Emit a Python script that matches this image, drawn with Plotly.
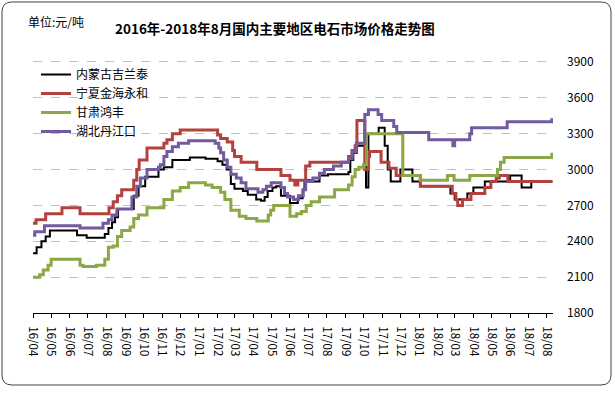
import plotly.graph_objects as go

# ---------------- data ----------------
black_dates = ["2016-04-01","2016-04-07","2016-04-15","2016-04-22","2016-04-29","2016-06-13","2016-06-29",
    "2016-07-29","2016-08-04","2016-08-10","2016-08-15","2016-08-20","2016-09-15","2016-09-23","2016-10-04",
    "2016-10-26","2016-11-04","2016-11-18","2016-12-17","2017-01-12","2017-02-01","2017-02-09","2017-02-16",
    "2017-02-23","2017-03-01","2017-03-15","2017-03-23","2017-04-06","2017-04-14","2017-04-20","2017-04-25",
    "2017-05-03","2017-05-09","2017-05-17","2017-06-01","2017-06-14","2017-06-22","2017-06-25","2017-07-09",
    "2017-07-20","2017-08-03","2017-09-06","2017-09-09","2017-09-14","2017-09-20","2017-10-05","2017-10-09",
    "2017-10-26","2017-11-05","2017-11-10","2017-11-15","2017-12-01","2017-12-21","2018-01-03","2018-02-22",
    "2018-03-01","2018-03-22","2018-04-01","2018-04-20","2018-06-01","2018-06-20","2018-07-06","2018-08-10"]
black_values = [2300,2350,2400,2440,2490,2450,2430,
    2460,2510,2560,2600,2670,2780,2860,2940,
    3000,3020,3080,3100,3090,3070,3040,3000,
    2880,2840,2820,2790,2750,2740,2770,2820,
    2850,2860,2780,2720,2760,2830,2910,2900,
    2950,2960,2980,3080,3140,3200,2850,3300,
    3350,3200,3000,2900,3000,2900,2860,2800,
    2750,2800,2850,2900,2950,2850,2900,2900]

red_dates = ["2016-04-01","2016-04-06","2016-04-22","2016-05-19","2016-06-18","2016-08-05","2016-08-12",
    "2016-08-19","2016-08-26","2016-09-15","2016-09-20","2016-09-24","2016-10-07","2016-11-04","2016-11-09",
    "2016-11-18","2016-12-01","2017-02-01","2017-02-06","2017-02-17","2017-02-26","2017-03-01","2017-03-12",
    "2017-04-07","2017-05-17","2017-06-01","2017-06-09","2017-06-14","2017-06-27","2017-07-04","2017-09-06",
    "2017-09-12","2017-09-17","2017-09-20","2017-10-03","2017-10-09","2017-10-11","2017-10-30","2017-11-12",
    "2017-11-24","2018-01-03","2018-02-25","2018-03-03","2018-03-06","2018-03-14","2018-03-28","2018-04-20",
    "2018-04-30","2018-05-09","2018-05-14","2018-05-28","2018-08-10"]
red_values = [2550,2580,2630,2680,2630,2680,2730,
    2780,2830,2910,3000,3080,3180,3220,3250,
    3300,3330,3290,3260,3230,3160,3110,3060,
    3000,2950,2910,2870,2910,3030,3060,3110,
    3160,3200,3410,3000,3110,3150,3060,3010,
    2950,2860,2800,2750,2700,2750,2800,2850,
    2900,2930,2950,2900,2900]

green_dates = ["2016-04-01","2016-04-12","2016-04-18","2016-04-26","2016-05-01","2016-06-18","2016-06-23",
    "2016-07-15","2016-07-29","2016-08-04","2016-08-12","2016-08-19","2016-08-26","2016-09-09","2016-09-15",
    "2016-09-23","2016-10-07","2016-11-04","2016-11-18","2016-12-01","2016-12-15","2017-01-12","2017-01-23",
    "2017-02-06","2017-02-13","2017-02-23","2017-03-09","2017-03-20","2017-04-07","2017-04-26","2017-04-30",
    "2017-05-05","2017-06-01","2017-06-12","2017-06-20","2017-06-28","2017-07-06","2017-07-20","2017-08-14",
    "2017-09-06","2017-09-12","2017-09-17","2017-09-23","2017-10-01","2017-10-06","2017-12-05","2018-01-03",
    "2018-02-17","2018-02-28","2018-03-26","2018-05-11","2018-05-16","2018-05-22","2018-08-09"]
green_values = [2100,2120,2160,2200,2250,2200,2190,
    2200,2250,2350,2360,2440,2490,2520,2590,
    2620,2680,2750,2820,2850,2890,2870,2850,
    2810,2750,2660,2610,2590,2570,2620,2660,
    2700,2610,2630,2650,2700,2730,2770,2830,
    2870,2940,3000,3020,3040,3300,2950,2910,
    2950,2910,2950,3000,3060,3100,3140]

purple_dates = ["2016-04-01","2016-04-04","2016-04-20","2016-06-18","2016-07-26","2016-08-04","2016-08-10",
    "2016-08-18","2016-09-12","2016-09-20","2016-09-26","2016-10-07","2016-10-26","2016-10-29","2016-11-04",
    "2016-11-09","2016-11-18","2016-11-28","2016-12-15","2017-01-28","2017-02-03","2017-02-06","2017-02-11",
    "2017-02-17","2017-02-23","2017-03-04","2017-03-12","2017-03-20","2017-04-09","2017-04-17","2017-04-23",
    "2017-05-01","2017-05-17","2017-05-23","2017-05-28","2017-06-07","2017-06-15","2017-06-23","2017-06-27",
    "2017-07-09","2017-07-20","2017-07-28","2017-08-12","2017-08-25","2017-09-06","2017-09-12","2017-09-19",
    "2017-10-03","2017-10-09","2017-10-25","2017-10-31","2017-11-20","2017-11-25","2018-01-17","2018-02-26",
    "2018-03-01","2018-03-26","2018-03-29","2018-05-27","2018-08-09"]
purple_values = [2450,2480,2530,2510,2550,2580,2620,
    2670,2770,2860,2930,3000,3020,3040,3110,
    3150,3190,3220,3240,3220,3180,3140,3080,
    3020,2960,2930,2890,2840,2810,2830,2860,
    2890,2850,2800,2770,2750,2780,2830,2900,
    2930,2970,3000,3030,3060,3090,3150,3220,
    3460,3500,3460,3410,3360,3310,3250,3200,
    3250,3300,3350,3400,3430]

series_names = ["内蒙古吉兰泰", "宁夏金海永和", "甘肃鸿丰", "湖北丹江口"]
y_ticks = [1800, 2100, 2400, 2700, 3000, 3300, 3600, 3900]
title_text = "2016年-2018年8月国内主要地区电石市场价格走势图"
unit_text = "单位:元/吨"

# ---------------- layout constants ----------------
W, H = 615, 393
L, R, T, B = 33, 62, 50, 80
PW, PH = W - L - R, H - T - B

def px(x):
    return (x - L) / PW

def py(y):
    return (H - B - y) / PH

FONT = "Noto Sans CJK SC"
colors = ["#000000", "#B3413D", "#8BA845", "#725A9E"]
widths = [2, 3, 3, 3]

fig = go.Figure()
for name, d, v, c, w in zip(series_names,
                            [black_dates, red_dates, green_dates, purple_dates],
                            [black_values, red_values, green_values, purple_values],
                            colors, widths):
    fig.add_trace(go.Scatter(x=d, y=v, name=name, mode="lines",
                             line=dict(color=c, width=w, shape="hv"),
                             hoverinfo="skip"))

# rounded frame
x0, y0, x1, y1, r = 2, 2, 611, 385, 10
pts = lambda a, b: f"{px(a):.5f},{py(b):.5f}"
path = (f"M {pts(x0+r,y0)} L {pts(x1-r,y0)} Q {pts(x1,y0)} {pts(x1,y0+r)} "
        f"L {pts(x1,y1-r)} Q {pts(x1,y1)} {pts(x1-r,y1)} L {pts(x0+r,y1)} "
        f"Q {pts(x0,y1)} {pts(x0,y1-r)} L {pts(x0,y0+r)} Q {pts(x0,y0)} {pts(x0+r,y0)} Z")
fig.add_shape(type="path", path=path, xref="paper", yref="paper",
              line=dict(color="#404040", width=1), layer="below")

fig.add_annotation(text="<b>" + title_text + "</b>", xref="paper", yref="paper", x=px(275), y=py(28),
                   xanchor="center", yanchor="middle", showarrow=False,
                   font=dict(family=FONT, size=13.5, color="#000000"))
fig.add_annotation(text=unit_text, xref="paper", yref="paper", x=px(26), y=py(22),
                   xanchor="left", yanchor="middle", showarrow=False,
                   font=dict(family=FONT, size=12, color="#000000"))

fig.update_layout(
    width=W, height=H,
    margin=dict(l=L, r=R, t=T, b=B, pad=0),
    paper_bgcolor="white", plot_bgcolor="white",
    font=dict(family=FONT, size=12, color="#000000"),
    showlegend=True,
    legend=dict(x=px(36), y=py(60), xanchor="left", yanchor="top",
                bgcolor="rgba(0,0,0,0)", font=dict(family=FONT, size=12),
                tracegroupgap=0, itemwidth=30),
    xaxis=dict(type="date", range=["2016-04-01", "2018-08-11"],
               tick0="2016-04-01", dtick="M1", tickformat="%y/%m",
               tickangle=90, ticks="outside", ticklen=4, tickcolor="#000000",
               ticklabelstandoff=6,
               showline=True, linecolor="#000000", linewidth=1,
               showgrid=False, zeroline=False,
               tickfont=dict(family=FONT, size=11.5)),
    yaxis=dict(range=[1800, 4000], side="right", tickvals=y_ticks,
               showline=False, ticks="", ticklabelstandoff=13,
               showgrid=True, gridcolor="#C0C0C0", griddash="dash", gridwidth=1,
               zeroline=False, tickfont=dict(family=FONT, size=12)),
    yaxis2=dict(range=[1800, 4000], overlaying="y", side="left", tickvals=y_ticks,
                showticklabels=False, showline=True, linecolor="#000000", linewidth=1,
                ticks="inside", ticklen=4, tickcolor="#000000",
                showgrid=False, zeroline=False),
)

fig.write_html("out.html", config={"displayModeBar": False},
               post_script="document.body.style.margin='0';document.body.style.overflow='hidden';")
